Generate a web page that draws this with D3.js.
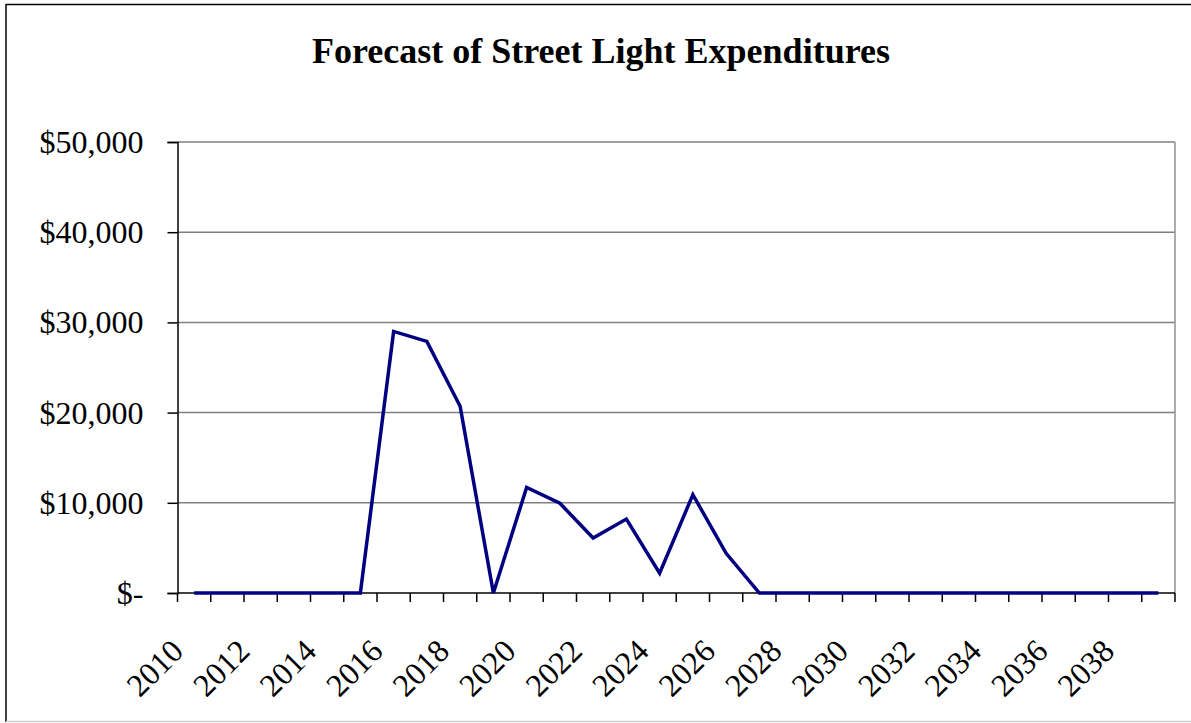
<!DOCTYPE html>
<html>
<head>
<meta charset="utf-8">
<script src="https://cdn.jsdelivr.net/npm/d3@7"></script>
<style>
  html, body { margin: 0; padding: 0; background: #fff; }
  svg { display: block; }
  text { font-family: "Liberation Serif", "Times New Roman", serif; fill: #000; }
</style>
</head>
<body>
<svg id="chart" width="1191" height="723"></svg>
<script>
// Annual street light expenditures, 2010–2039
const years = d3.range(2010, 2040);
const expenditures = [
  0, 0, 0, 0, 0, 0, 29000, 27900, 20700, 0,
  11700, 9950, 6100, 8200, 2200, 10900, 4400, 0, 0, 0,
  0, 0, 0, 0, 0, 0, 0, 0, 0, 0
];
const yTicks = [0, 10000, 20000, 30000, 40000, 50000];
const xLabelYears = years.filter(y => y % 2 === 0);
const chartTitle = "Forecast of Street Light Expenditures";

const svg = d3.select("#chart");
const W = 1191, H = 723;
const plot = { left: 177.5, right: 1175, top: 142, bottom: 593 };

// Outer chart frame
svg.append("line").attr("x1", 6).attr("x2", W).attr("y1", 4.5).attr("y2", 4.5)
  .attr("stroke", "#000").attr("stroke-width", 1.5);
svg.append("line").attr("x1", 6).attr("x2", 6).attr("y1", 4).attr("y2", 722)
  .attr("stroke", "#000").attr("stroke-width", 1.5);
svg.append("line").attr("x1", 6).attr("x2", W).attr("y1", 721.5).attr("y2", 721.5)
  .attr("stroke", "#d0d0d0").attr("stroke-width", 1.5);

// Title
svg.append("text")
  .attr("x", 601).attr("y", 63)
  .attr("text-anchor", "middle")
  .attr("font-size", 36).attr("font-weight", "bold")
  .text(chartTitle);

const x = d3.scaleBand().domain(years).range([plot.left, plot.right]).padding(0);
const y = d3.scaleLinear().domain([0, 50000]).range([plot.bottom, plot.top]);

// Horizontal gridlines
svg.append("g").selectAll("line")
  .data(yTicks.filter(t => t > 0))
  .join("line")
  .attr("x1", plot.left).attr("x2", plot.right)
  .attr("y1", d => y(d)).attr("y2", d => y(d))
  .attr("stroke", "#808080").attr("stroke-width", 1.5);

// Right border of plot area
svg.append("line")
  .attr("x1", plot.right).attr("x2", plot.right)
  .attr("y1", plot.top).attr("y2", plot.bottom)
  .attr("stroke", "#909090").attr("stroke-width", 1.5);

// Y axis
const fmt = v => v === 0 ? "$-" : "$" + d3.format(",")(v);
const yAxis = svg.append("g")
  .attr("transform", `translate(${plot.left},0)`)
  .call(d3.axisLeft(y).tickValues(yTicks).tickFormat(fmt).tickSize(10).tickPadding(24));
yAxis.select(".domain").attr("stroke", "#000").attr("stroke-width", 1.5);
yAxis.selectAll(".tick line").attr("stroke", "#000").attr("stroke-width", 1.5);
yAxis.selectAll(".tick text")
  .attr("font-family", "Liberation Serif, Times New Roman, serif")
  .attr("font-size", 32).attr("dy", "0.33em").attr("fill", "#000");

// X axis: ticks on category boundaries
const boundaries = years.map(d => x(d)).concat([plot.right]);
const xg = svg.append("g");
xg.append("line")
  .attr("x1", plot.left).attr("x2", plot.right)
  .attr("y1", plot.bottom).attr("y2", plot.bottom)
  .attr("stroke", "#000").attr("stroke-width", 1.5);
xg.selectAll("line.tick")
  .data(boundaries)
  .join("line").attr("class", "tick")
  .attr("x1", d => d).attr("x2", d => d)
  .attr("y1", plot.bottom).attr("y2", plot.bottom + 9)
  .attr("stroke", "#000").attr("stroke-width", 1.5);

// Rotated year labels
xg.selectAll("text")
  .data(xLabelYears)
  .join("text")
  .attr("transform", d => `translate(${x(d) + x.bandwidth() / 2 - 9},${plot.bottom + 60}) rotate(-45)`)
  .attr("text-anchor", "end")
  .attr("font-size", 32)
  .text(d => d);

// Expenditure line
const line = d3.line()
  .x((d, i) => x(years[i]) + x.bandwidth() / 2)
  .y(d => y(d));
svg.append("path")
  .datum(expenditures)
  .attr("d", line)
  .attr("fill", "none")
  .attr("stroke", "#000080")
  .attr("stroke-width", 3.5)
  .attr("stroke-linejoin", "miter");
</script>
</body>
</html>
